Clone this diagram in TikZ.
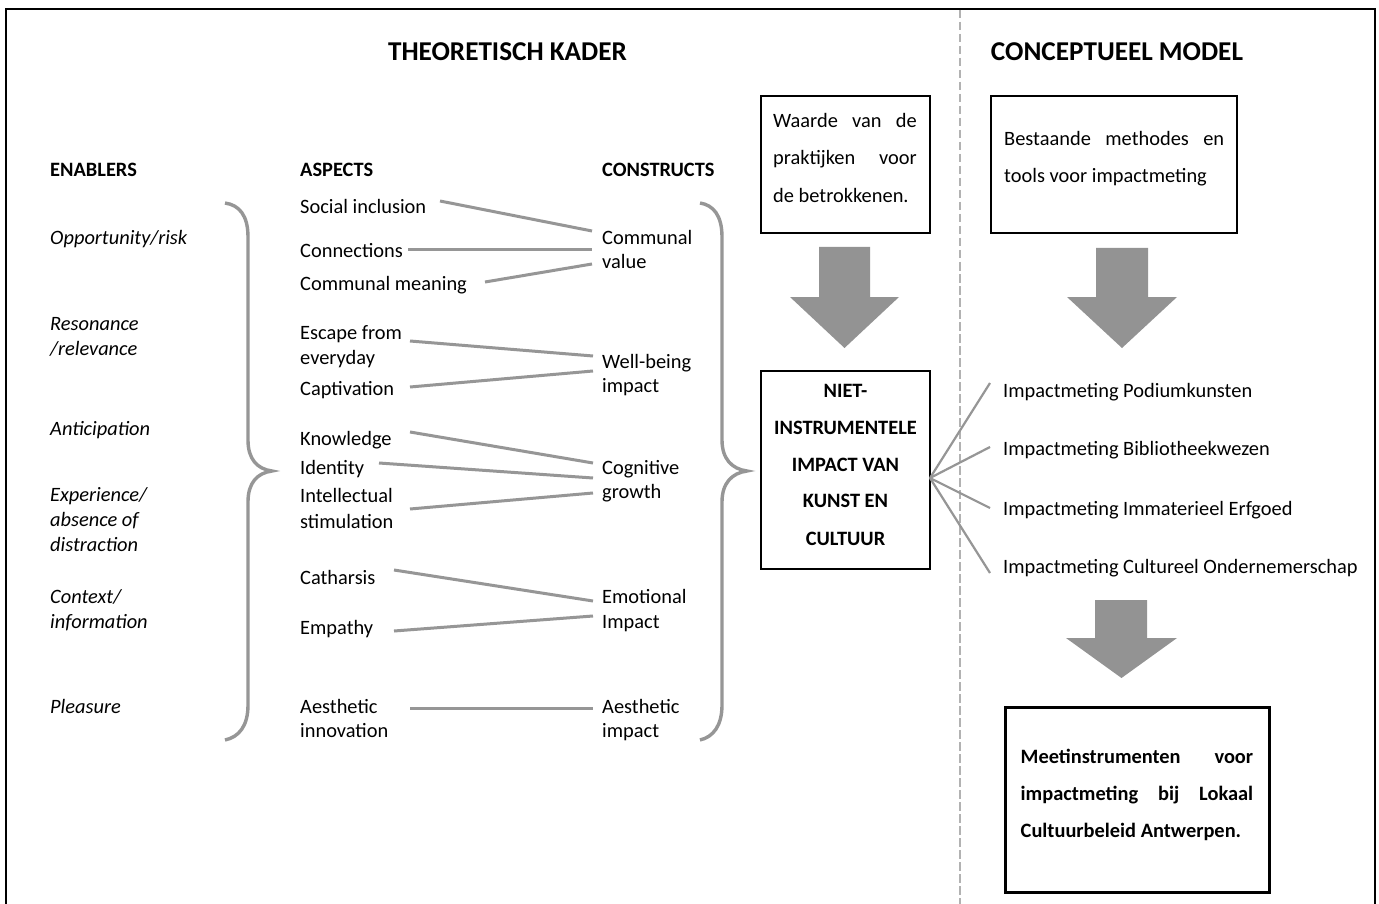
\documentclass[tikz,border=0pt]{standalone}
\usepackage{fontspec}
\setmainfont{Carlito}
\usetikzlibrary{calc}
\definecolor{linegray}{RGB}{150,150,150}
\definecolor{arrowgray}{RGB}{147,147,147}
\definecolor{dashgray}{RGB}{178,178,178}
\newcommand{\bodyfont}{\fontsize{20.4}{25}\selectfont}
\newcommand{\headfont}{\fontsize{27.2}{32}\selectfont\bfseries}
\begin{document}
\begin{tikzpicture}[x=1pt,y=-1pt,
  lbl/.style={anchor=base west, inner sep=0pt, font=\bodyfont},
  enab/.style={anchor=base west, inner sep=0pt, font=\bodyfont\itshape},
  colhead/.style={anchor=base west, inner sep=0pt, font=\bodyfont\bfseries},
  title/.style={anchor=base, inner sep=0pt, font=\headfont},
  boxed/.style={draw=black, line width=1.2pt, inner sep=0pt, outer sep=0pt},
  thickbox/.style={draw=black, line width=3pt, inner sep=0pt, outer sep=0pt},
  boldline/.style={anchor=base, inner sep=0pt, font=\bodyfont\bfseries},
  boldleft/.style={anchor=base west, inner sep=0pt, font=\bodyfont\bfseries},
  link/.style={draw=linegray, line width=3pt},
  fan/.style={draw=linegray, line width=2.2pt},
  bracestyle/.style={draw=linegray, line width=3.4pt},
  bigarrow/.style={fill=arrowgray},
]
\useasboundingbox (0,0) rectangle (1379,904);
\fill[white] (0,0) rectangle (1379,904);

% frame and divider
\draw[line width=2pt] (6,904) -- (6,9) -- (1375,9) -- (1375,904);
\draw[dashgray, line width=2pt, dash pattern=on 8.5pt off 3.5pt] (960,10) -- (960,904);

% titles
\node[title] (tk) at (507.5,61) {THEORETISCH KADER};
\node[title] (cm) at (1117,61) {CONCEPTUEEL MODEL};

% column heads
\node[colhead] (enh) at (50,177) {ENABLERS};
\node[colhead] (ash) at (300,177) {ASPECTS};
\node[colhead] (coh) at (602,177) {CONSTRUCTS};

% enablers
\node[enab] (en1) at (50,245) {Opportunity/risk};
\node[enab] (en2a) at (50,330) {Resonance};
\node[enab] (en2b) at (50,355) {/relevance};
\node[enab] (en3) at (50,435) {Anticipation};
\node[enab] (en4a) at (50,501) {Experience/};
\node[enab] (en4b) at (50,526) {absence of};
\node[enab] (en4c) at (50,551) {distraction};
\node[enab] (en5a) at (50,603) {Context/};
\node[enab] (en5b) at (50,628) {information};
\node[enab] (en6) at (50,713) {Pleasure};

% aspects
\node[lbl] (soc) at (300,214) {Social inclusion};
\node[lbl] (con) at (300,258) {Connections};
\node[lbl] (cmm) at (300,290) {Communal meaning};
\node[lbl] (esc) at (300,339) {Escape from};
\node[lbl] (esc2) at (300,364) {everyday};
\node[lbl] (cap) at (300,395) {Captivation};
\node[lbl] (kno) at (300,445) {Knowledge};
\node[lbl] (ide) at (300,474) {Identity};
\node[lbl] (int) at (300,502) {Intellectual};
\node[lbl] (int2) at (300,528) {stimulation};
\node[lbl] (cat) at (300,584) {Catharsis};
\node[lbl] (emp) at (300,634) {Empathy};
\node[lbl] (aes) at (300,713) {Aesthetic};
\node[lbl] (aes2) at (300,737) {innovation};

% constructs
\node[lbl] (cv) at (602,245) {Communal};
\node[lbl] (cv2) at (602,269) {value};
\node[lbl] (wb) at (602,368) {Well-being};
\node[lbl] (wb2) at (602,392) {impact};
\node[lbl] (cg) at (602,474) {Cognitive};
\node[lbl] (cg2) at (602,498) {growth};
\node[lbl] (em) at (602,603) {Emotional};
\node[lbl] (em2) at (602,628) {Impact};
\node[lbl] (ai) at (602,713) {Aesthetic};
\node[lbl] (ai2) at (602,737) {impact};

% links aspects -> constructs
\draw[link] ($(soc.base west)+(140,-13)$) -- ($(cv.base west)+(-10,-14)$);
\draw[link] ($(con.base west)+(108,-8)$) -- ($(cv.base west)+(-10,5)$);
\draw[link] ($(cmm.base west)+(185,-8)$) -- ($(cv.base west)+(-10,19)$);
\draw[link] ($(esc.base west)+(110,2)$) -- ($(wb.base west)+(-9,-12)$);
\draw[link] ($(cap.base west)+(110,-8)$) -- ($(wb.base west)+(-9,3)$);
\draw[link] ($(kno.base west)+(110,-13)$) -- ($(cg.base west)+(-9,-11)$);
\draw[link] ($(ide.base west)+(79,-11)$) -- ($(cg.base west)+(-9,4)$);
\draw[link] ($(int.base west)+(110,7)$) -- ($(cg.base west)+(-9,19)$);
\draw[link] ($(cat.base west)+(94,-14)$) -- ($(em.base west)+(-9,-2)$);
\draw[link] ($(emp.base west)+(94,-3)$) -- ($(em.base west)+(-9,13)$);
\draw[link] ($(aes.base west)+(110,-5)$) -- ($(ai.base west)+(-9,-5)$);

% braces
\draw[bracestyle] (225,203) .. controls (239,205) and (248,215) .. (248,237)
  -- (248,440) .. controls (248,459) and (257,469) .. (272,471)
  .. controls (257,473) and (248,483) .. (248,502)
  -- (248,705) .. controls (248,726) and (239,737) .. (225,740);
\draw[bracestyle] (700,203) .. controls (713,205) and (722,215) .. (722,237)
  -- (722,440) .. controls (722,459) and (732,469) .. (747,471)
  .. controls (732,473) and (722,483) .. (722,502)
  -- (722,705) .. controls (722,726) and (713,737) .. (700,740);

% boxes
\node[boxed, minimum width=169pt, minimum height=137pt] (waarde) at (845.5,164.5) {};
\node[lbl] (wa1) at (773,128) {\makebox[143.5pt][s]{Waarde van de}};
\node[lbl] (wa2) at (773,165) {\makebox[143.5pt][s]{praktijken voor}};
\node[lbl] (wa3) at (773,203) {de betrokkenen.};

\node[boxed, minimum width=246pt, minimum height=137pt] (best) at (1114,164.5) {};
\node[lbl] (be1) at (1004,146) {\makebox[220pt][s]{Bestaande methodes en}};
\node[lbl] (be2) at (1004,183) {tools voor impactmeting};

\node[boxed, minimum width=169pt, minimum height=198pt] (niet) at (845.5,470) {};
\node[boldline] (ni1) at (845.5,397) {NIET-};
\node[boldline] (ni2) at (845.5,434) {INSTRUMENTELE};
\node[boldline] (ni3) at (845.5,471) {IMPACT VAN};
\node[boldline] (ni4) at (845.5,507) {KUNST EN};
\node[boldline] (ni5) at (845.5,545) {CULTUUR};

\node[thickbox, minimum width=264pt, minimum height=185pt] (final) at (1137,799.5) {};
\node[boldleft] (fi1) at (1020.5,763) {\makebox[232.5pt][s]{Meetinstrumenten voor}};
\node[boldleft] (fi2) at (1020.5,800) {\makebox[232.5pt][s]{impactmeting bij Lokaal}};
\node[boldleft] (fi3) at (1020.5,837) {Cultuurbeleid Antwerpen.};

% block arrows
\fill[bigarrow] (819,247) -- (870,247) -- (870,297) -- (899,297) -- (844.5,348) -- (790,297) -- (819,297) -- cycle;
\fill[bigarrow] (1096,248) -- (1148,248) -- (1148,297) -- (1177,297) -- (1122,348) -- (1067,297) -- (1096,297) -- cycle;
\fill[bigarrow] (1095,600) -- (1147,600) -- (1147,638) -- (1177,638) -- (1121.5,678) -- (1066,638) -- (1095,638) -- cycle;

% impactmeting items
\node[lbl] (ip1) at (1003,397) {Impactmeting Podiumkunsten};
\node[lbl] (ip2) at (1003,455) {Impactmeting Bibliotheekwezen};
\node[lbl] (ip3) at (1003,515) {Impactmeting Immaterieel Erfgoed};
\node[lbl] (ip4) at (1003,573) {Impactmeting Cultureel Ondernemerschap};

\draw[fan] ($(niet.east)+(0,8)$) -- ($(ip1.base west)+(-13,-14)$);
\draw[fan] ($(niet.east)+(0,8)$) -- ($(ip2.base west)+(-13,-8)$);
\draw[fan] ($(niet.east)+(0,8)$) -- ($(ip3.base west)+(-13,-7)$);
\draw[fan] ($(niet.east)+(0,8)$) -- ($(ip4.base west)+(-13,0)$);
\end{tikzpicture}
\end{document}
